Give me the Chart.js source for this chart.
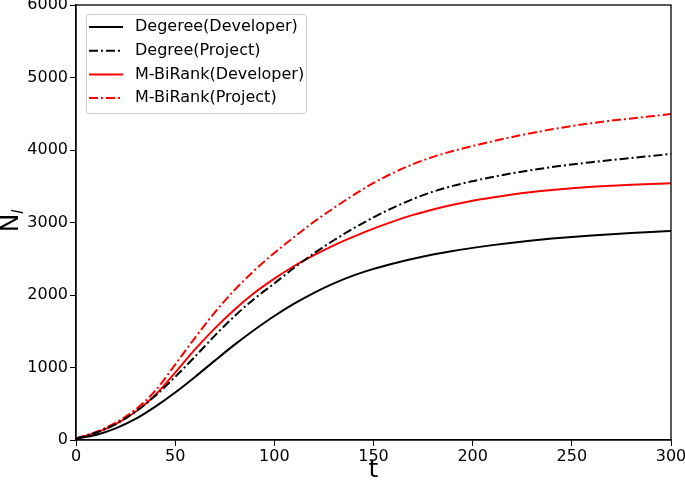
<!DOCTYPE html>
<html><head><meta charset="utf-8">
<script src="https://cdn.jsdelivr.net/npm/chart.js@4.4.1/dist/chart.umd.min.js"></script>
<style>html,body{margin:0;padding:0;background:#fff;}#wrap{width:685px;height:486px;}</style>
</head><body><div id="wrap"><canvas id="c" width="685" height="486"></canvas></div>
<script>
const tValues = [0,10,20,30,40,50,60,70,80,90,100,110,120,130,140,150,160,170,180,190,200,210,220,230,240,250,260,270,280,290,300];
const degDeveloper = [20,70,160,290,460,655,870,1095,1315,1520,1710,1880,2030,2160,2270,2360,2435,2500,2558,2608,2650,2688,2722,2752,2778,2801,2821,2839,2855,2869,2882];
const degProject   = [20,100,220,390,610,870,1150,1440,1710,1950,2160,2375,2575,2755,2920,3070,3205,3325,3425,3505,3570,3628,3680,3725,3765,3800,3832,3862,3890,3917,3945];
const mbrDeveloper = [20,100,220,390,620,930,1250,1540,1800,2030,2225,2400,2550,2685,2805,2915,3015,3105,3180,3245,3300,3345,3385,3420,3448,3472,3492,3508,3522,3532,3540];
const mbrProject   = [20,110,240,420,680,1040,1410,1760,2070,2340,2580,2800,3010,3200,3380,3545,3685,3805,3905,3985,4055,4120,4180,4235,4285,4330,4370,4405,4435,4465,4495];
const seriesNames = ['Degeree(Developer)','Degree(Project)','M-BiRank(Developer)','M-BiRank(Project)'];
const xTicks = [0,50,100,150,200,250,300];
const yTicks = [0,1000,2000,3000,4000,5000,6000];

const DASHDOT = [9, 3, 2, 3];
function pts(arr){ return arr.map((v,i)=>({x:tValues[i], y:v})); }
const FONT = 'DejaVu Sans';

const frame = {
  id:'frame',
  afterDraw(chart){
    const {ctx, chartArea:a} = chart;
    ctx.save();
    ctx.strokeStyle='#000'; ctx.lineWidth=1.3;
    ctx.strokeRect(a.left, a.top, a.right-a.left, a.bottom-a.top);
    // y title N_l
    ctx.fillStyle='#000';
    ctx.translate(18, 223);
    ctx.rotate(-Math.PI/2);
    ctx.font = '25px "'+FONT+'"';
    ctx.textAlign='center'; ctx.textBaseline='alphabetic';
    ctx.fillText('N', 0, 0);
    ctx.font = 'italic 16px "'+FONT+'"';
    ctx.textAlign='left';
    ctx.fillText('l', 9, 5);
    ctx.restore();
    // legend
    ctx.save();
    const lx=86, ly=14, lw=220, lh=99;
    ctx.fillStyle='rgba(255,255,255,0.8)';
    ctx.strokeStyle='#cccccc'; ctx.lineWidth=1;
    ctx.beginPath();
    if (ctx.roundRect) ctx.roundRect(lx+0.5, ly+0.5, lw, lh, 3); else ctx.rect(lx+0.5,ly+0.5,lw,lh);
    ctx.fill(); ctx.stroke();
    ctx.font='16px "'+FONT+'"';
    ctx.textBaseline='middle'; ctx.textAlign='left';
    chart.data.datasets.forEach((ds,i)=>{
      const y = ly + 13 + i*23.7;
      ctx.strokeStyle=ds.borderColor; ctx.lineWidth=2;
      ctx.setLineDash(ds.borderDash||[]);
      ctx.beginPath(); ctx.moveTo(lx+3, y); ctx.lineTo(lx+37, y); ctx.stroke();
      ctx.setLineDash([]);
      ctx.fillStyle='#000';
      ctx.fillText(ds.label, lx+49, y);
    });
    ctx.restore();
  }
};

new Chart(document.getElementById('c'), {
  type:'line',
  data:{ datasets:[
    {label:seriesNames[0], data:pts(degDeveloper), borderColor:'#000000', borderWidth:2},
    {label:seriesNames[1], data:pts(degProject), borderColor:'#000000', borderWidth:2, borderDash:DASHDOT},
    {label:seriesNames[2], data:pts(mbrDeveloper), borderColor:'#ff0000', borderWidth:2},
    {label:seriesNames[3], data:pts(mbrProject), borderColor:'#ff0000', borderWidth:2, borderDash:DASHDOT},
  ]},
  options:{
    responsive:false, animation:false, devicePixelRatio:1,
    layout:{padding:{top:5, right:14, left:0, bottom:0}},
    elements:{point:{radius:0}, line:{cubicInterpolationMode:'monotone', fill:false}},
    plugins:{legend:{display:false}, tooltip:{enabled:false}},
    scales:{
      x:{type:'linear', min:0, max:300,
        afterBuildTicks(s){ s.ticks = xTicks.map(v=>({value:v})); },
        afterFit(s){ s.height = 46; s.paddingLeft = 0; s.paddingRight = 0; },
        grid:{drawOnChartArea:false, drawTicks:true, tickLength:6, tickColor:'#000', color:'#000'},
        border:{display:true, color:'#000', width:1.3},
        ticks:{color:'#000', font:{family:FONT, size:16}, padding:1, maxRotation:0},
        title:{display:true, text:'t', color:'#000', font:{family:FONT, size:25}, padding:{top:0,bottom:1}}
      },
      y:{type:'linear', min:0, max:6000,
        afterBuildTicks(s){ s.ticks = yTicks.map(v=>({value:v})); },
        afterFit(s){ s.width = 76; s.paddingTop = 0; s.paddingBottom = 0; },
        grid:{drawOnChartArea:false, drawTicks:true, tickLength:6, tickColor:'#000', color:'#000'},
        border:{display:true, color:'#000', width:1.3},
        ticks:{color:'#000', font:{family:FONT, size:16}, padding:2, callback:(v)=>String(v)}
      }
    }
  },
  plugins:[frame]
});
</script></body></html>
